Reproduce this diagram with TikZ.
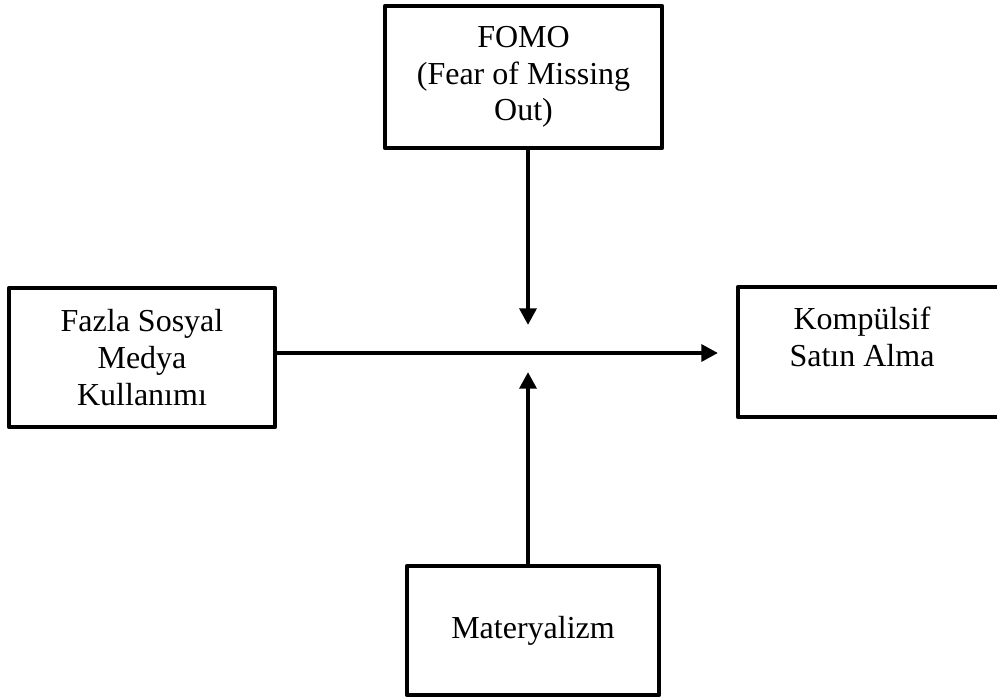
\documentclass[tikz,border=0pt]{standalone}
\usepackage{fontspec}
\setmainfont{Liberation Serif}
\usetikzlibrary{arrows.meta}
\begin{document}
\begin{tikzpicture}[x=0.75pt,y=-0.75pt,
  box/.style={draw, line width=3.5pt, line join=round, inner sep=0pt, align=center, font=\fontsize{24}{27.6}\selectfont},
  lbl/.style={font=\fontsize{24}{27.6}\selectfont, align=center, inner sep=0pt},
  arr/.style={line width=3.5pt, -{Triangle[length=12.5pt,width=12.5pt]}}]
\useasboundingbox (0,0) rectangle (997,699);
\clip (0,0) rectangle (997,699);
\node[box, minimum width=277*0.75pt, minimum height=142*0.75pt] (f) at (523.5,77) {FOMO\\(Fear of Missing\\Out)};
\node[box, minimum width=266*0.75pt, minimum height=139*0.75pt] (s) at (142,357.5) {Fazla Sosyal\\Medya\\Kullanımı};
\node[box, minimum width=272*0.75pt, minimum height=130*0.75pt] (k) at (874,352) {};
\node[lbl] (kt) at (862,337) {Kompülsif\\Satın Alma};
\node[box, minimum width=252*0.75pt, minimum height=129*0.75pt] (m) at (533,630.5) {Materyalizm};
\coordinate (ta) at (528,325);
\coordinate (tb) at (528,372);
\coordinate (he) at (718,353);
\draw[arr] (f.south -| ta) -- (ta);
\draw[arr] (m.north -| tb) -- (tb);
\draw[arr] (s.east |- he) -- (he);
\end{tikzpicture}
\end{document}
